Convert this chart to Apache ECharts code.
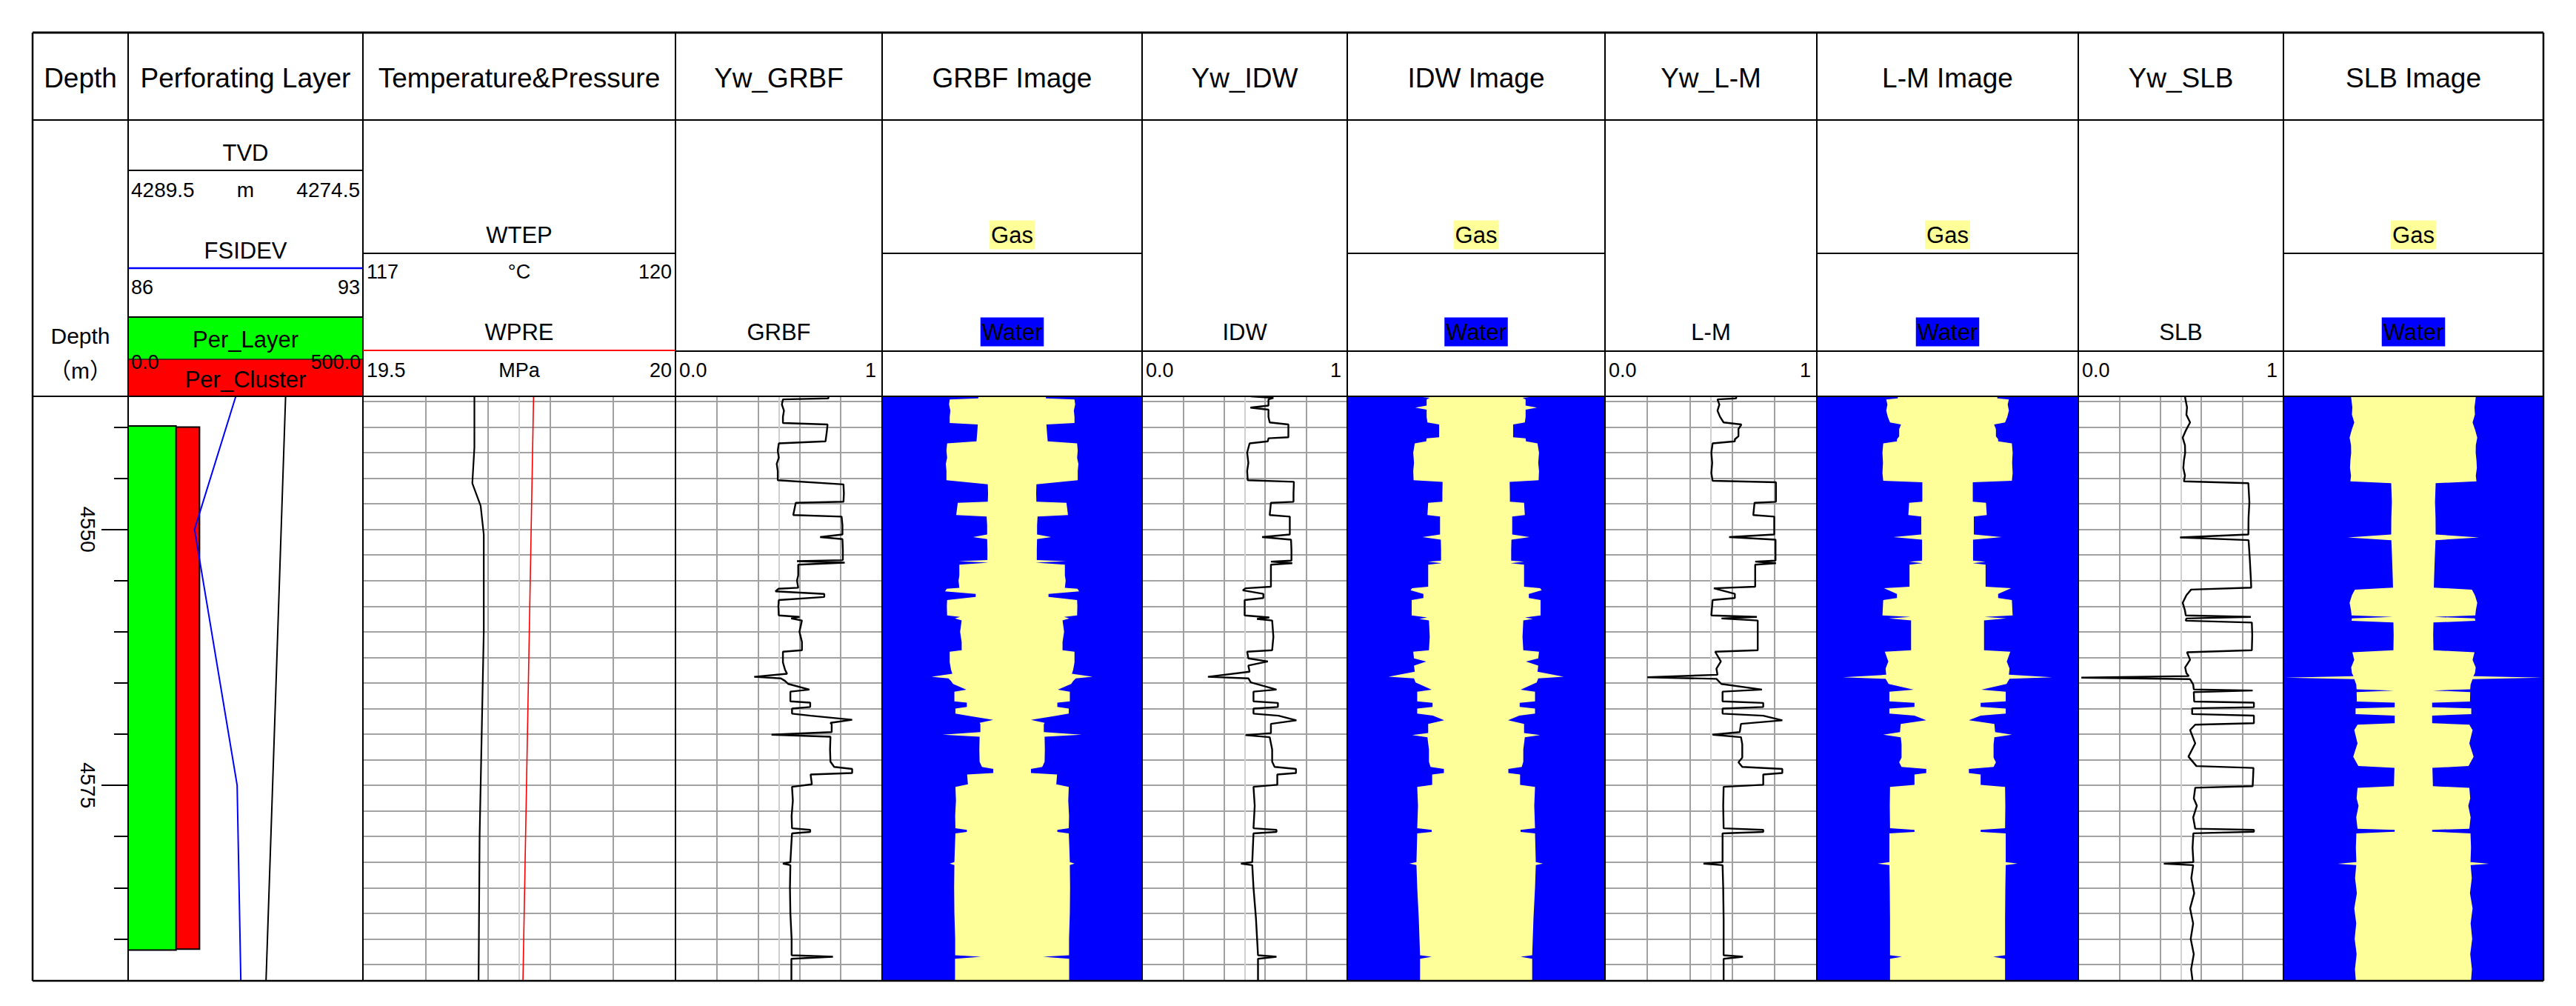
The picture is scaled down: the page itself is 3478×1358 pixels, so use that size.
<!DOCTYPE html>
<html><head><meta charset="utf-8">
<script src="https://cdn.jsdelivr.net/npm/echarts@6/dist/echarts.min.js"></script>
<style>html,body{margin:0;padding:0;background:#fff}#c{width:3478px;height:1358px}</style>
</head><body><div id="c"></div>
<script>
// ---------------- DATA ----------------
const depthRange = [4537.0, 4594.1];
const depthMinorTicks = [4540, 4545, 4550, 4555, 4560, 4565, 4570, 4575, 4580, 4585, 4590];
const depthMajorTicks = [4550, 4575];
const depthGridLines = [4537.5, 4540, 4542.5, 4545, 4547.5, 4550, 4552.5, 4555, 4557.5, 4560, 4562.5, 4565, 4567.5, 4570, 4572.5, 4575, 4577.5, 4580, 4582.5, 4585, 4587.5, 4590, 4592.5];
const ywGridValues = [0, 0.2, 0.4, 0.5, 0.6, 0.8, 1];
const tempGridValues = [117, 117.6, 118.2, 118.5, 118.8, 119.4, 120];

const trackTitles = ['Depth', 'Perforating Layer', 'Temperature&Pressure', 'Yw_GRBF', 'GRBF Image', 'Yw_IDW', 'IDW Image', 'Yw_L-M', 'L-M Image', 'Yw_SLB', 'SLB Image'];
const curveNames = ['GRBF', 'IDW', 'L-M', 'SLB'];

// [top depth, bottom depth, value on 0-500 scale]
const perLayer = [[4539.9, 4591.1, 102]];
const perCluster = [[4540.0, 4591.0, 152]];
// [depth, value]
const tvd = [[4537.0, 4279.44], [4565.0, 4280.05], [4594.1, 4280.69]];
const fsidev = [[4537.0, 89.21], [4550.0, 87.98], [4575.0, 89.25], [4594.1, 89.36]];
const wtep = [[4537.0, 118.07], [4542.0, 118.07], [4545.5, 118.05], [4547.7, 118.13], [4550.5, 118.16], [4560.0, 118.16], [4570.0, 118.14], [4580.0, 118.12], [4594.1, 118.11]];
const wpre = [[4537.0, 19.773], [4594.1, 19.756]];

const ywGRBF = [[4537.0,0.74],[4537.2,0.74],[4537.3,0.52],[4537.8,0.515],[4538.4,0.525],[4539.0,0.52],[4539.6,0.52],[4539.75,0.736],[4540.5,0.732],[4541.4,0.726],[4541.6,0.50],[4542.3,0.495],[4543.0,0.50],[4543.6,0.49],[4544.3,0.495],[4545.2,0.495],[4545.6,0.813],[4546.5,0.815],[4547.3,0.813],[4547.4,0.582],[4548.6,0.570],[4548.75,0.804],[4549.6,0.808],[4550.5,0.808],[4550.75,0.70],[4550.95,0.808],[4552.0,0.81],[4553.0,0.81],[4553.1,0.588],[4553.25,0.819],[4553.45,0.594],[4554.5,0.594],[4555.0,0.588],[4555.7,0.594],[4555.8,0.498],[4556.05,0.484],[4556.3,0.72],[4556.6,0.72],[4556.9,0.50],[4557.5,0.498],[4558.4,0.50],[4558.55,0.60],[4558.7,0.56],[4558.9,0.612],[4560.0,0.60],[4561.0,0.612],[4561.8,0.612],[4561.95,0.52],[4563.0,0.52],[4563.7,0.53],[4564.1,0.54],[4564.4,0.381],[4564.55,0.51],[4564.8,0.53],[4565.1,0.546],[4565.65,0.648],[4565.85,0.556],[4566.8,0.556],[4566.93,0.652],[4567.35,0.652],[4567.5,0.564],[4568.0,0.564],[4568.2,0.654],[4568.6,0.855],[4568.9,0.75],[4569.05,0.756],[4569.8,0.756],[4570.05,0.465],[4570.25,0.75],[4571.5,0.748],[4572.7,0.75],[4573.2,0.768],[4573.4,0.855],[4573.8,0.855],[4573.95,0.654],[4574.9,0.66],[4575.15,0.564],[4576.5,0.568],[4578.0,0.562],[4579.2,0.564],[4579.35,0.652],[4579.55,0.652],[4579.7,0.564],[4581.0,0.560],[4582.5,0.556],[4582.65,0.52],[4582.8,0.556],[4585.0,0.554],[4587.5,0.556],[4590.0,0.562],[4591.6,0.562],[4591.75,0.762],[4591.95,0.561],[4594.1,0.561]];

const ywIDW = [[4537.0,0.53],[4537.15,0.64],[4537.3,0.616],[4537.9,0.616],[4538.1,0.528],[4538.3,0.616],[4539.0,0.616],[4539.55,0.622],[4539.75,0.713],[4540.5,0.713],[4541.0,0.713],[4541.1,0.616],[4541.4,0.613],[4541.6,0.524],[4542.5,0.512],[4543.5,0.518],[4544.3,0.512],[4545.2,0.515],[4545.35,0.74],[4546.5,0.738],[4547.3,0.738],[4547.4,0.628],[4548.6,0.622],[4548.75,0.72],[4550.5,0.72],[4550.75,0.585],[4551.0,0.726],[4552.0,0.728],[4553.05,0.728],[4553.15,0.628],[4553.3,0.732],[4553.45,0.628],[4555.6,0.628],[4555.75,0.504],[4555.95,0.491],[4556.3,0.591],[4556.7,0.591],[4556.9,0.500],[4558.4,0.500],[4558.6,0.62],[4558.75,0.56],[4558.9,0.634],[4560.5,0.640],[4561.8,0.634],[4561.95,0.512],[4562.6,0.518],[4562.9,0.613],[4563.3,0.518],[4563.9,0.524],[4564.4,0.321],[4564.55,0.518],[4564.95,0.530],[4565.65,0.655],[4565.85,0.543],[4566.8,0.543],[4566.95,0.662],[4567.35,0.662],[4567.5,0.543],[4568.0,0.543],[4568.2,0.665],[4568.65,0.752],[4569.0,0.628],[4569.9,0.628],[4570.1,0.504],[4570.3,0.622],[4571.5,0.634],[4572.7,0.634],[4573.2,0.646],[4573.4,0.75],[4573.8,0.75],[4573.95,0.659],[4574.95,0.659],[4575.15,0.543],[4577.0,0.549],[4579.2,0.543],[4579.35,0.655],[4579.55,0.655],[4579.7,0.543],[4582.5,0.537],[4582.65,0.482],[4582.8,0.537],[4585.0,0.543],[4588.0,0.555],[4591.6,0.565],[4591.75,0.655],[4591.95,0.565],[4594.1,0.565]];

const ywLM = [[4537.0,0.62],[4537.2,0.619],[4537.3,0.531],[4537.8,0.54],[4538.4,0.531],[4539.0,0.543],[4539.55,0.56],[4539.75,0.644],[4540.2,0.63],[4540.9,0.63],[4541.2,0.613],[4541.4,0.613],[4541.6,0.508],[4542.5,0.502],[4543.5,0.506],[4544.5,0.502],[4545.25,0.508],[4545.4,0.807],[4546.5,0.807],[4547.3,0.807],[4547.4,0.706],[4548.6,0.70],[4548.75,0.799],[4550.5,0.799],[4550.75,0.586],[4551.0,0.805],[4553.05,0.805],[4553.15,0.709],[4553.3,0.807],[4553.45,0.709],[4555.6,0.709],[4555.75,0.514],[4556.3,0.613],[4556.7,0.613],[4556.9,0.508],[4558.4,0.502],[4558.55,0.717],[4558.7,0.55],[4558.9,0.721],[4560.5,0.721],[4561.8,0.721],[4561.95,0.520],[4562.9,0.547],[4563.6,0.526],[4564.2,0.531],[4564.45,0.2],[4564.6,0.526],[4565.1,0.549],[4565.65,0.741],[4565.85,0.555],[4566.8,0.555],[4566.95,0.747],[4567.35,0.747],[4567.5,0.555],[4568.0,0.555],[4568.2,0.747],[4568.65,0.837],[4569.0,0.642],[4569.8,0.636],[4570.05,0.508],[4570.3,0.642],[4571.0,0.648],[4572.3,0.648],[4572.75,0.630],[4573.2,0.648],[4573.4,0.837],[4573.8,0.837],[4573.95,0.747],[4574.95,0.747],[4575.15,0.560],[4577.0,0.558],[4579.2,0.560],[4579.35,0.747],[4579.55,0.747],[4579.7,0.555],[4582.5,0.555],[4582.65,0.465],[4582.8,0.555],[4585.0,0.558],[4588.0,0.560],[4591.6,0.560],[4591.75,0.651],[4591.95,0.560],[4594.1,0.560]];

const ywSLB = [[4537.0,0.521],[4537.14,0.521],[4538.07,0.53],[4538.8,0.527],[4539.55,0.545],[4540.3,0.525],[4541.04,0.509],[4541.78,0.52],[4542.52,0.521],[4543.26,0.515],[4544.0,0.512],[4544.75,0.52],[4545.3,0.515],[4545.49,0.829],[4547.34,0.834],[4548.83,0.83],[4550.5,0.829],[4550.79,0.496],[4551.05,0.83],[4552.9,0.836],[4554.76,0.841],[4555.69,0.843],[4555.88,0.55],[4556.43,0.527],[4557.17,0.509],[4557.92,0.52],[4558.4,0.524],[4558.55,0.841],[4558.7,0.527],[4558.92,0.524],[4559.1,0.846],[4560.33,0.848],[4561.81,0.846],[4562.0,0.53],[4562.74,0.545],[4563.48,0.521],[4564.04,0.527],[4564.33,0.539],[4564.48,0.015],[4564.63,0.545],[4565.15,0.56],[4565.63,0.563],[4565.74,0.85],[4565.89,0.563],[4566.82,0.565],[4566.93,0.856],[4567.37,0.856],[4567.48,0.555],[4568.04,0.555],[4568.19,0.856],[4568.93,0.856],[4569.08,0.57],[4569.6,0.545],[4570.9,0.57],[4572.2,0.537],[4573.12,0.576],[4573.3,0.854],[4575.09,0.85],[4575.24,0.57],[4576.28,0.563],[4577.0,0.578],[4578.13,0.56],[4579.24,0.57],[4579.35,0.856],[4579.54,0.856],[4579.69,0.561],[4581.1,0.557],[4582.5,0.561],[4582.66,0.417],[4582.8,0.56],[4584.07,0.551],[4585.55,0.565],[4587.03,0.545],[4588.5,0.56],[4590.0,0.548],[4591.5,0.563],[4592.97,0.55],[4594.1,0.557]];

// ---------------- LAYOUT ----------------
const FONT = '"Liberation Sans", Arial, "Noto Sans CJK SC", sans-serif';
const X0 = 44, X1 = 3434, Y0 = 44, YR1 = 162, YR2 = 535, Y1 = 1324;
const cols = [44, 173, 490, 912, 1191, 1542, 1819, 2167, 2453, 2806, 3083, 3434];
const TOP = YR2, H = Y1 - YR2;

const grids = [], xAxes = [], yAxes = [], series = [];
function addGrid(left, width, xOpt, yOpt, gOpt) {
  const i = grids.length;
  grids.push(Object.assign({left: left, top: TOP, width: width, height: H, containLabel: false}, gOpt || {}));
  xAxes.push(Object.assign({type: 'value', gridIndex: i, position: 'top', axisLine: {show: false}, axisTick: {show: false}, axisLabel: {show: false}, splitLine: {show: false}}, xOpt));
  yAxes.push(Object.assign({type: 'value', gridIndex: i, min: depthRange[0], max: depthRange[1], inverse: true, axisLine: {show: false}, axisTick: {show: false}, axisLabel: {show: false}, splitLine: {show: false}}, yOpt || {}));
  return i;
}
const gridY = {axisTick: {show: false, customValues: depthGridLines}, splitLine: {show: true, lineStyle: {color: '#a2a2a2', width: 2}}};
function gridX(vals) {
  return {axisTick: {show: false, customValues: vals}, splitLine: {show: true, lineStyle: {color: ['#888888', '#a0a0a0', '#a0a0a0', '#d0d0d0', '#a0a0a0', '#a0a0a0', '#000000'], width: 2}}};
}
function lineSeries(gi, data, color, width) {
  series.push({type: 'line', xAxisIndex: gi, yAxisIndex: gi, data: data.map(p => [p[1], p[0]]), showSymbol: false, symbol: 'none', silent: true, clip: true,
    lineStyle: {color: color, width: width}, z: 5});
}
function rectSeries(gi, data, color) {
  series.push({type: 'custom', xAxisIndex: gi, yAxisIndex: gi, data: data, encode: {x: 2, y: [0, 1]}, silent: true, z: 3,
    renderItem: function (params, api) {
      const p0 = api.coord([0, api.value(0)]);
      const p1 = api.coord([api.value(2), api.value(1)]);
      return {type: 'rect', shape: {x: p0[0], y: p0[1], width: p1[0] - p0[0], height: p1[1] - p0[1]}, style: {fill: color, stroke: '#000', lineWidth: 2}};
    }});
}
function imageSeries(gi, arr) {
  series.push({type: 'custom', xAxisIndex: gi, yAxisIndex: gi, data: arr.map(p => [1 - p[1], p[0]]), encode: {x: 0, y: 1}, silent: true, clip: true, z: 3,
    renderItem: function (params, api) {
      if (params.dataIndex !== 0) return null;
      const right = arr.map(p => api.coord([1 - p[1], p[0]]));
      const left = arr.slice().reverse().map(p => api.coord([p[1] - 1, p[0]]));
      return {type: 'polygon', shape: {points: right.concat(left)}, style: {fill: '#FFFF99'}};
    }});
}

// Perforating layer track (with depth axis on its left edge)
const gPer = addGrid(cols[1], cols[2] - cols[1], {min: 0, max: 500}, {
  position: 'left',
  axisLine: {show: true, lineStyle: {color: '#000', width: 2}},
  axisTick: {show: true, customValues: depthMinorTicks, length: 19, lineStyle: {color: '#000', width: 2}},
  axisLabel: {show: true, customValues: depthMajorTicks, rotate: -90, margin: 40, fontSize: 28, color: '#000', fontFamily: FONT, formatter: v => String(v)}
});
const gTvd = addGrid(cols[1], cols[2] - cols[1], {min: 4274.5, max: 4289.5, inverse: true}, {
  position: 'left',
  axisTick: {show: true, customValues: depthMajorTicks, length: 36, lineStyle: {color: '#000', width: 2}}
});
const gDev = addGrid(cols[1], cols[2] - cols[1], {min: 86, max: 93});
rectSeries(gPer, perCluster, '#FF0000');
rectSeries(gPer, perLayer, '#00FF00');
lineSeries(gTvd, tvd, '#000000', 2);
lineSeries(gDev, fsidev, '#0000FF', 2);

// Temperature & pressure
const gTemp = addGrid(cols[2], cols[3] - cols[2], Object.assign({min: 117, max: 120}, gridX(tempGridValues)), gridY);
const gPres = addGrid(cols[2], cols[3] - cols[2], {min: 19.5, max: 20});
lineSeries(gTemp, wtep, '#000000', 2.2);
lineSeries(gPres, wpre, '#FF0000', 1.6);

// Yw tracks and images
const ywSets = [ywGRBF, ywIDW, ywLM, ywSLB];
ywSets.forEach(function (arr, k) {
  const cl = cols[3 + 2 * k], cm = cols[4 + 2 * k], cr = cols[5 + 2 * k];
  const gy = addGrid(cl, cm - cl, Object.assign({min: 0, max: 1}, gridX(ywGridValues)), gridY);
  lineSeries(gy, arr, '#000000', 2.4);
  const gi = addGrid(cm, cr - cm, {min: -1, max: 1}, {}, {show: true, backgroundColor: '#0000FF', borderWidth: 0});
  imageSeries(gi, arr);
});

// ---------------- HEADER GRAPHICS ----------------
const G = [];
function L(x1, y1, x2, y2, color, w) { G.push({type: 'line', shape: {x1: x1, y1: y1, x2: x2, y2: y2}, style: {stroke: color || '#000', lineWidth: w || 2}, z: 100, silent: true}); }
function T(text, x, y, size, align, extra) { G.push({type: 'text', x: x, y: y, style: Object.assign({text: text, font: size + 'px ' + FONT, fill: '#000', align: align || 'center', verticalAlign: 'middle'}, extra || {}), z: 102, silent: true}); }
function R(x, y, w, h, fill) { G.push({type: 'rect', shape: {x: x, y: y, width: w, height: h}, style: {fill: fill}, z: 99, silent: true}); }

// coloured header boxes
R(cols[1], 428, cols[2] - cols[1], 57, '#00FF00');
R(cols[1], 485, cols[2] - cols[1], 50, '#FF0000');

// frame
L(X0, Y0, X1, Y0, '#000', 3); L(X0, Y1, X1, Y1, '#000', 2.5);
L(X0, Y0, X0, Y1, '#000', 2.5); L(X1, Y0, X1, Y1, '#000', 2.5);
L(X0, YR1, X1, YR1); L(X0, YR2, X1, YR2);
for (let i = 1; i < cols.length - 1; i++) L(cols[i], Y0, cols[i], Y1);
// perforating sub-header
L(cols[1], 230, cols[2], 230);
L(cols[1], 362, cols[2], 362, '#0000FF', 2.5);
L(cols[1], 428, cols[2], 428);
L(cols[1], 485, cols[2], 485, '#222', 1.5);
// temperature sub-header
L(cols[2], 342, cols[3], 342);
L(cols[2], 473, cols[3], 473, '#FF0000', 2);
for (let k = 0; k < 4; k++) {
  const cl = cols[3 + 2 * k], cm = cols[4 + 2 * k], cr = cols[5 + 2 * k];
  L(cl, 474, cm, 474);
  L(cm, 342, cr, 342);
  L(cm, 474, cr, 474);
}

// titles row
for (let i = 0; i < trackTitles.length; i++) T(trackTitles[i], (cols[i] + cols[i + 1]) / 2, 105, 37);

// depth column
T('Depth', (cols[0] + cols[1]) / 2, 453, 30);
T('（m）', (cols[0] + cols[1]) / 2, 500, 30);
// perforating layer column
const pc = (cols[1] + cols[2]) / 2;
T('TVD', pc, 206, 31);
T('4289.5', cols[1] + 4, 256, 28, 'left'); T('m', pc, 256, 28); T('4274.5', cols[2] - 4, 256, 28, 'right');
T('FSIDEV', pc, 338, 31);
T('86', cols[1] + 4, 388, 27, 'left'); T('93', cols[2] - 4, 388, 27, 'right');
T('Per_Layer', pc, 458, 31);
T('0.0', cols[1] + 4, 489, 27, 'left'); T('500.0', cols[2] - 3, 489, 27, 'right');
T('Per_Cluster', pc, 512, 31);
// temperature column
const tc = (cols[2] + cols[3]) / 2;
T('WTEP', tc, 317, 31);
T('117', cols[2] + 5, 367, 27, 'left'); T('°C', tc, 367, 27); T('120', cols[3] - 5, 367, 27, 'right');
T('WPRE', tc, 448, 31);
T('19.5', cols[2] + 5, 500, 27, 'left'); T('MPa', tc, 500, 27); T('20', cols[3] - 5, 500, 27, 'right');
// curve and image columns
for (let k = 0; k < 4; k++) {
  const cl = cols[3 + 2 * k], cm = cols[4 + 2 * k], cr = cols[5 + 2 * k];
  T(curveNames[k], (cl + cm) / 2, 448, 31);
  T('0.0', cl + 5, 500, 27, 'left'); T('1', cm - 8, 500, 27, 'right');
  T('Gas', (cm + cr) / 2, 317, 31, 'center', {backgroundColor: '#FFFF99', padding: [5, 2, 3, 2]});
  T('Water', (cm + cr) / 2, 448, 31, 'center', {backgroundColor: '#0000FF', padding: [5, 2, 3, 2]});
}

const chart = echarts.init(document.getElementById('c'), null, {renderer: 'svg', width: 3478, height: 1358});
chart.setOption({
  backgroundColor: '#FFFFFF',
  animation: false,
  grid: grids,
  xAxis: xAxes,
  yAxis: yAxes,
  series: series,
  graphic: {elements: G}
});
</script>
</body></html>
